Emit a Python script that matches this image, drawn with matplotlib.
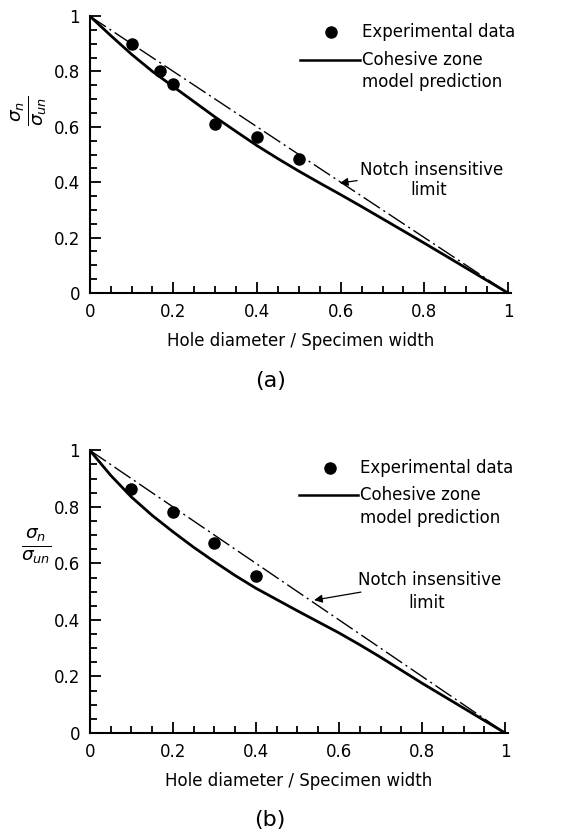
import numpy as np
import matplotlib.pyplot as plt
from matplotlib.ticker import MultipleLocator

# experimental points, panel (a) and (b)
exp_x_a = [0.1, 0.167, 0.2, 0.3, 0.4, 0.5]
exp_y_a = [0.90, 0.80, 0.755, 0.61, 0.565, 0.485]
exp_x_b = [0.1, 0.2, 0.3, 0.4]
exp_y_b = [0.862, 0.782, 0.672, 0.554]

# cohesive zone model curves
model_x = [0.0, 0.05, 0.1, 0.15, 0.2, 0.25, 0.3, 0.35, 0.4, 0.45, 0.5,
           0.55, 0.6, 0.65, 0.7, 0.75, 0.8, 0.85, 0.9, 0.95, 1.0]
model_y_a = [1.0, 0.93, 0.862, 0.80, 0.745, 0.69, 0.635, 0.583, 0.532, 0.485, 0.44,
             0.397, 0.355, 0.312, 0.268, 0.224, 0.18, 0.135, 0.09, 0.045, 0.0]
model_y_b = [1.0, 0.912, 0.835, 0.77, 0.712, 0.657, 0.606, 0.557, 0.512, 0.472, 0.432,
             0.393, 0.354, 0.312, 0.268, 0.222, 0.176, 0.132, 0.088, 0.044, 0.0]

# notch insensitive limit
limit_x = [0.0, 1.0]
limit_y = [1.0, 0.0]

plt.rcParams['font.family'] = 'DejaVu Sans'
fig = plt.figure(figsize=(5.61, 8.34), dpi=100)

# rect, points, curve, tag, ylabel rotation, ylabel x, legend/annotation positions
panels = [
    ([0.160, 0.6487, 0.75, 0.332], exp_x_a, exp_y_a, model_y_a, '(a)', 90, -0.145, -0.34,
     [0.942, 0.84, 0.762], (0.646, 0.444), (0.598, 0.397), (0.766, 0.372), 0.574),
    ([0.160, 0.1211, 0.745, 0.339], exp_x_b, exp_y_b, model_y_b, '(b)', 0, -0.127, -0.33,
     [0.936, 0.841, 0.76], (0.646, 0.54), (0.54, 0.47), (0.766, 0.46), 0.574),
]

for rect, ex, ey, my, tag, rot, labx, tagy, ly, ntxt, ntip, ltxt, mx in panels:
    ax = fig.add_axes(rect)
    ax.plot(limit_x, limit_y, color='black', lw=1.0, ls=(0, (14, 3, 1.5, 3)))
    ax.plot(model_x, my, color='black', lw=2.0)
    ax.plot(ex, ey, 'o', color='black', ms=8)
    ax.set_xlim(0, 1.006)
    ax.set_ylim(0, 1)
    ax.spines['top'].set_visible(False)
    ax.spines['right'].set_visible(False)
    ax.spines['left'].set_linewidth(1.5)
    ax.spines['bottom'].set_linewidth(1.5)
    ax.xaxis.set_major_locator(MultipleLocator(0.2))
    ax.xaxis.set_minor_locator(MultipleLocator(0.05))
    ax.yaxis.set_major_locator(MultipleLocator(0.2))
    ax.yaxis.set_minor_locator(MultipleLocator(0.05))
    fmt = lambda v, p: '0' if v == 0 else ('1' if abs(v - 1) < 1e-9 else f'{v:.1f}')
    ax.xaxis.set_major_formatter(fmt)
    ax.yaxis.set_major_formatter(fmt)
    ax.tick_params(which='major', direction='in', length=8, width=1.3, labelsize=12, pad=7)
    ax.tick_params(which='minor', direction='in', length=5, width=1.3)
    ax.set_xlabel('Hole diameter / Specimen width', fontsize=12, labelpad=8)
    ax.set_ylabel(r'$\frac{\sigma_n}{\sigma_{un}}$', fontsize=19, rotation=rot, va='center', ha='center')
    ax.yaxis.set_label_coords(labx, 0.66)
    ax.text(0.43, tagy, tag, transform=ax.transAxes, fontsize=16, ha='center')

    # legend drawn by hand
    ax.plot([mx], [ly[0]], 'o', color='black', ms=8, transform=ax.transAxes, clip_on=False)
    ax.text(0.646, ly[0], 'Experimental data', transform=ax.transAxes, fontsize=12, va='center')
    ax.plot([0.50, 0.643], [ly[1], ly[1]], color='black', lw=1.8, transform=ax.transAxes, clip_on=False)
    ax.text(0.646, ly[1], 'Cohesive zone', transform=ax.transAxes, fontsize=12, va='center')
    ax.text(0.646, ly[2], 'model prediction', transform=ax.transAxes, fontsize=12, va='center')
    ax.annotate('Notch insensitive', xy=ntip, xytext=ntxt,
                fontsize=12, va='center',
                arrowprops=dict(arrowstyle='-|>', color='black', lw=0.9, shrinkA=0, shrinkB=0))
    ax.text(ltxt[0], ltxt[1], 'limit', fontsize=12, va='center')

fig.savefig('out.png', dpi=100)
